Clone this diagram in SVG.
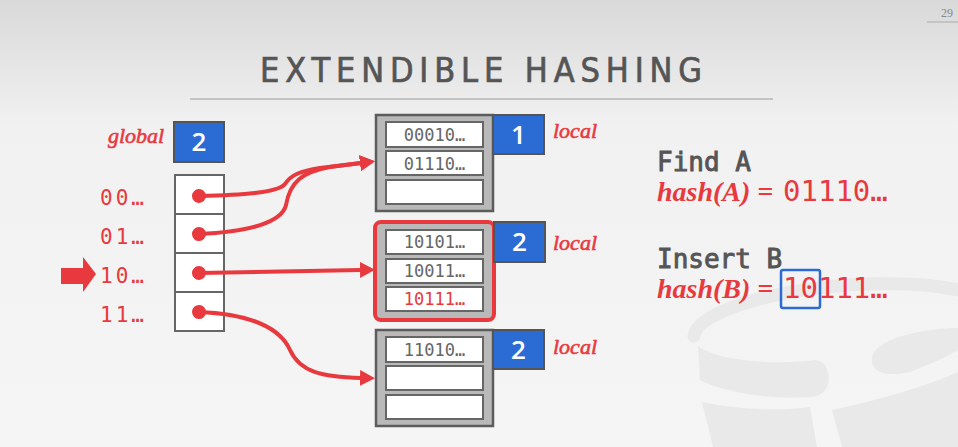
<svg xmlns="http://www.w3.org/2000/svg" width="958" height="447" viewBox="0 0 958 447">
  <defs>
    <linearGradient id="bg" x1="0" y1="0" x2="0" y2="1">
      <stop offset="0" stop-color="#d9d9d9"/>
      <stop offset="0.28" stop-color="#f1f1f1"/>
      <stop offset="1" stop-color="#f5f5f5"/>
    </linearGradient>
    <marker id="head" markerUnits="userSpaceOnUse" markerWidth="16" markerHeight="16" refX="1" refY="8" orient="auto">
      <path d="M0,0 L15,8 L0,16 Z" fill="#e8393f"/>
    </marker>
    <marker id="dot" markerUnits="userSpaceOnUse" markerWidth="16" markerHeight="16" refX="8" refY="8" orient="auto">
      <circle cx="8" cy="8" r="7" fill="#e8393f"/>
    </marker>
  </defs>
  <style>
    .title { font-family: "DejaVu Sans Condensed", "Liberation Sans Narrow", "DejaVu Sans", sans-serif; font-stretch: condensed; font-size: 34px; fill: #555; stroke: #555; stroke-width: 0.7px; }
    .pg { font-family: "Liberation Serif", serif; font-size: 12px; fill: #888; }
    .ital { font-family: "Liberation Serif", serif; font-style: italic; font-size: 22px; fill: #e8393f; stroke: #e8393f; stroke-width: 0.6px; }
    .hash { font-family: "Liberation Serif", serif; font-style: italic; font-weight: bold; font-size: 28px; fill: #e8393f; }
    .mono { font-family: "DejaVu Sans Mono", "Liberation Mono", monospace; }
    .lbl { font-size: 21px; fill: #e8393f; letter-spacing: 3px; }
    .slottxt { font-size: 17px; fill: #666; text-anchor: middle; }
    .op { font-size: 26px; fill: #555; stroke: #555; stroke-width: 0.9px; }
    .val { font-size: 29px; fill: #e8393f; }
    .num { font-family: "Open Sans", "Liberation Sans", sans-serif; font-weight: 600; font-size: 26px; fill: #fff; text-anchor: middle; }
    .blue { fill: #2b6cd4; stroke: #555; stroke-width: 2; }
    .bucket { fill: #b9b9b9; stroke: #5c5c5c; stroke-width: 2.5; }
    .slot { fill: #fff; stroke: #666; stroke-width: 2; }
    .cell { fill: #fff; stroke: #666; stroke-width: 2; }
    .wm { fill: #e9e9e9; }
    .link { fill: none; stroke: #e8393f; stroke-width: 4; marker-start: url(#dot); marker-end: url(#head); }
  </style>

  <!-- background -->
  <rect x="0" y="0" width="958" height="447" fill="url(#bg)"/>

  <!-- faint logo watermark -->
  <g id="watermark">
    <path d="M694,336 C700,300 860,270 958,290" fill="none" stroke="#e9e9e9" stroke-width="13" stroke-linecap="round"/>
    <path class="wm" d="M698,346 C722,364 790,364 815,360 C832,360 836,395 812,397 C770,400 722,392 700,380 Z"/>
    <path class="wm" d="M958,328 C930,328 882,336 873,354 C866,372 890,380 915,370 C935,362 950,355 958,350 Z"/>
    <path class="wm" d="M702,402 C740,410 780,411 810,407 L817,447 L713,447 Z"/>
    <path class="wm" d="M832,410 C880,400 930,385 958,372 L958,447 L842,447 Z"/>
  </g>

  <!-- page number -->
  <text class="pg" x="941" y="17">29</text>
  <line x1="927" y1="22" x2="958" y2="22" stroke="#bbb" stroke-width="1.5"/>

  <!-- title -->
  <text class="title" x="260" y="82" textLength="442" lengthAdjust="spacing">EXTENDIBLE HASHING</text>
  <line x1="190" y1="99" x2="773" y2="99" stroke="#c4c4c4" stroke-width="2"/>

  <!-- global depth -->
  <g id="global">
    <text class="ital" x="108" y="143">global</text>
    <rect class="blue" x="174" y="122" width="50" height="40"/>
    <text class="num" x="199" y="151">2</text>
  </g>

  <!-- directory -->
  <g id="directory">
    <rect class="cell" x="175" y="175" width="49" height="39"/>
    <rect class="cell" x="175" y="214" width="49" height="39"/>
    <rect class="cell" x="175" y="253" width="49" height="39"/>
    <rect class="cell" x="175" y="292" width="49" height="39"/>
    <text class="mono lbl" x="100" y="205">00…</text>
    <text class="mono lbl" x="100" y="244">01…</text>
    <text class="mono lbl" x="100" y="283">10…</text>
    <text class="mono lbl" x="100" y="322">11…</text>
  </g>

  <!-- pointer to current directory slot -->
  <g id="cursor">
    <path d="M61,268 L83,268 L83,257 L96,274 L83,292 L83,284 L61,284 Z" fill="#e8393f"/>
  </g>

  <!-- bucket with local depth 1 -->
  <g id="bucket1">
    <rect class="bucket" x="376" y="115" width="117" height="96"/>
    <rect class="slot" x="386" y="122" width="97" height="25"/>
    <rect class="slot" x="386" y="151" width="97" height="24"/>
    <rect class="slot" x="386" y="180" width="97" height="24"/>
    <text class="mono slottxt" x="434.5" y="141">00010…</text>
    <text class="mono slottxt" x="434.5" y="170">01110…</text>
    <rect class="blue" x="493" y="115" width="51" height="39"/>
    <text class="num" x="518.5" y="144">1</text>
    <text class="ital" x="553" y="138">local</text>
  </g>

  <!-- bucket with local depth 2 (full) -->
  <g id="bucket2">
    <rect x="375" y="222" width="119" height="98" rx="6" fill="#b9b9b9" stroke="#e8393f" stroke-width="4"/>
    <rect class="slot" x="386" y="230" width="97" height="24"/>
    <rect class="slot" x="386" y="259" width="97" height="24"/>
    <rect class="slot" x="386" y="287" width="97" height="24"/>
    <text class="mono slottxt" x="434.5" y="248">10101…</text>
    <text class="mono slottxt" x="434.5" y="277">10011…</text>
    <text class="mono slottxt" x="434.5" y="305" style="fill:#e8393f">10111…</text>
    <rect class="blue" x="494" y="222" width="51" height="40"/>
    <text class="num" x="519.5" y="251">2</text>
    <text class="ital" x="553" y="250">local</text>
  </g>

  <!-- bucket with local depth 2 -->
  <g id="bucket3">
    <rect class="bucket" x="376" y="330" width="117" height="96"/>
    <rect class="slot" x="386" y="337" width="97" height="25"/>
    <rect class="slot" x="386" y="366" width="97" height="24"/>
    <rect class="slot" x="386" y="395" width="97" height="24"/>
    <text class="mono slottxt" x="434.5" y="356">11010…</text>
    <rect class="blue" x="493" y="330" width="51" height="39"/>
    <text class="num" x="518.5" y="359">2</text>
    <text class="ital" x="553" y="354">local</text>
  </g>

  <!-- directory pointers -->
  <g id="connectors">
    <path class="link" d="M199,196 C240,195 278,193 285,184 C291,175 300,171 320,168 L361,163"/>
    <path class="link" d="M199,234 C250,232 282,222 286,205 C290,182 302,172 330,167 L361,163"/>
    <path class="link" d="M199,273 L361,270"/>
    <path class="link" d="M199,312 C250,314 280,328 290,350 C300,372 322,377 361,378"/>
  </g>

  <!-- operations -->
  <g id="ops">
    <text class="mono op" x="657" y="171">Find A</text>
    <text class="hash" x="657" y="201">hash(A) =</text>
    <text class="mono val" x="783" y="201">01110…</text>
    <text class="mono op" x="657" y="268">Insert B</text>
    <text class="hash" x="657" y="298">hash(B) =</text>
    <text class="mono val" x="783" y="298">10111…</text>
    <rect x="781" y="270" width="39" height="38" rx="2" fill="none" stroke="#2b6cd4" stroke-width="2.5"/>
  </g>
</svg>
